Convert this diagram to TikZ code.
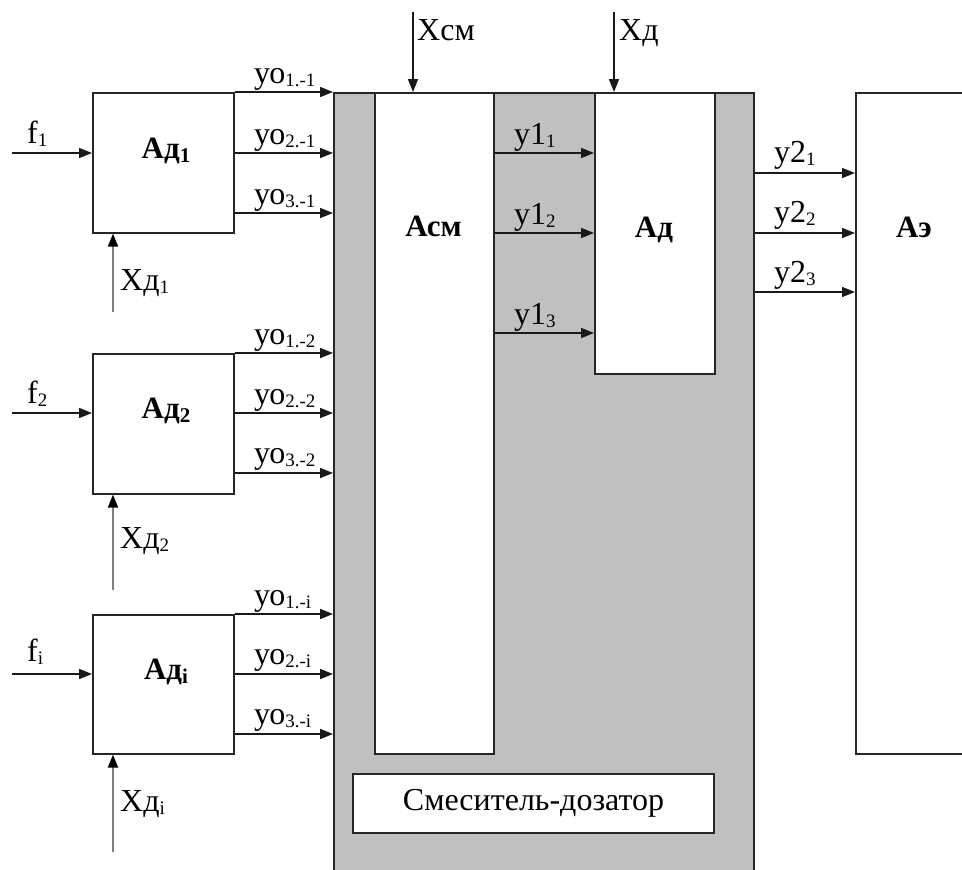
\documentclass[tikz,border=0pt]{standalone}
\usepackage{fontspec}
\setmainfont{Liberation Serif}
\usetikzlibrary{arrows.meta}
\definecolor{mixgray}{HTML}{C0C0C0}
\definecolor{linegray}{HTML}{808080}
\newcommand\lsub[1]{\raisebox{-3pt}{\fontsize{19}{21}\selectfont #1}}
\newcommand\bsub[1]{\raisebox{-4pt}{\fontsize{21}{23}\selectfont\bfseries #1}}
\begin{document}
\begin{tikzpicture}[x=1pt,y=-1pt,
  box/.style={draw=black!85, line width=1.6pt, fill=white, inner sep=0pt, anchor=north west},
  arr/.style={draw=black!90, line width=1.7pt, -{Triangle[length=13pt,width=10pt]}},
  garr/.style={draw=linegray, line width=1.9pt, -{Triangle[length=13pt,width=10pt,color=black]}},
  txt/.style={font=\fontsize{32}{38}\selectfont, inner sep=0pt, anchor=base west},
  btxt/.style={font=\fontsize{31}{37}\selectfont\bfseries, inner sep=0pt, anchor=base}]
\useasboundingbox (0,0) rectangle (962,870);
\clip (0,0) rectangle (962,870);

% main blocks
\node[box, fill=mixgray, minimum width=420pt, minimum height=800pt] (mixer) at (333,92) {};
\node[box, minimum width=119pt, minimum height=661pt] (asm) at (374,92) {};
\node[box, minimum width=120pt, minimum height=281pt] (adm) at (594,92) {};
\node[box, minimum width=160pt, minimum height=661pt] (ae) at (855,92) {};
\node[box, minimum width=361pt, minimum height=59pt, anchor=center,
      font=\fontsize{32}{38}\selectfont] (smes) at (533.5,803.5) {Смеситель-дозатор};

\node[box, minimum width=141pt, minimum height=140pt] (ad1) at (92,92) {};
\node[box, minimum width=141pt, minimum height=140pt] (ad2) at (92,353) {};
\node[box, minimum width=141pt, minimum height=139pt] (adi) at (92,614) {};

% block labels
\node[btxt] (lad1) at (166,158) {Ад\bsub{1}};
\node[btxt] (lad2) at (166,418) {Ад\bsub{2}};
\node[btxt] (ladi) at (166,679) {Ад\bsub{i}};
\node[btxt] (lasm) at (433.5,236) {Асм};
\node[btxt] (ladm) at (654,237) {Ад};
\node[btxt] (lae) at (914,237) {Аэ};

% inputs f
\coordinate (f1s) at (12,153);
\coordinate (f2s) at (12,413);
\coordinate (fis) at (12,674);
\draw[arr] (f1s) -- (f1s -| ad1.west);
\draw[arr] (f2s) -- (f2s -| ad2.west);
\draw[arr] (fis) -- (fis -| adi.west);
\node[txt] (tf1) at (27,143) {f\lsub{1}};
\node[txt] (tf2) at (27,403) {f\lsub{2}};
\node[txt] (tfi) at (27,661) {f\lsub{i}};

% control inputs Xd
\coordinate (x1s) at (113,312);
\coordinate (x2s) at (113,590);
\coordinate (xis) at (113,852);
\draw[garr] (x1s) -- (x1s |- ad1.south);
\draw[garr] (x2s) -- (x2s |- ad2.south);
\draw[garr] (xis) -- (xis |- adi.south);
\node[txt] (tx1) at (120,290) {Хд\lsub{1}};
\node[txt] (tx2) at (120,548) {Хд\lsub{2}};
\node[txt] (txi) at (120,811) {Хд\lsub{i}};

% outputs of dosers
\coordinate (o11) at (ad1.north east);
\coordinate (o21) at ([yshift=-61pt]ad1.north east);
\coordinate (o31) at ([yshift=-121pt]ad1.north east);
\coordinate (o12) at (ad2.north east);
\coordinate (o22) at ([yshift=-60pt]ad2.north east);
\coordinate (o32) at ([yshift=-120pt]ad2.north east);
\coordinate (o1i) at (adi.north east);
\coordinate (o2i) at ([yshift=-60pt]adi.north east);
\coordinate (o3i) at ([yshift=-120pt]adi.north east);
\foreach \c in {o11,o21,o31,o12,o22,o32,o1i,o2i,o3i}
  \draw[arr] (\c) -- (\c -| mixer.west);
\node[txt] (ty11) at (254,83) {уо\lsub{1.-1}};
\node[txt] (ty21) at (254,144) {уо\lsub{2.-1}};
\node[txt] (ty31) at (254,204) {уо\lsub{3.-1}};
\node[txt] (ty12) at (254,344) {уо\lsub{1.-2}};
\node[txt] (ty22) at (254,404) {уо\lsub{2.-2}};
\node[txt] (ty32) at (254,463) {уо\lsub{3.-2}};
\node[txt] (ty1i) at (254,605) {уо\lsub{1.-i}};
\node[txt] (ty2i) at (254,664) {уо\lsub{2.-i}};
\node[txt] (ty3i) at (254,724) {уо\lsub{3.-i}};

% top inputs
\coordinate (xcms) at (413,12);
\coordinate (xds) at (614,12);
\draw[arr] (xcms) -- (xcms |- mixer.north);
\draw[arr] (xds) -- (xds |- mixer.north);
\node[txt] (txcm) at (417,40) {Хсм};
\node[txt] (txd) at (619,40) {Хд};

% y1 arrows
\coordinate (y11) at (asm.east |- 0,153);
\coordinate (y12) at (asm.east |- 0,233);
\coordinate (y13) at (asm.east |- 0,333);
\foreach \c in {y11,y12,y13}
  \draw[arr] (\c) -- (\c -| adm.west);
\node[txt] (ty1a) at (514,144) {у1\lsub{1}};
\node[txt] (ty1b) at (514,224) {у1\lsub{2}};
\node[txt] (ty1c) at (514,324) {у1\lsub{3}};

% y2 arrows
\coordinate (y21) at (mixer.east |- 0,173);
\coordinate (y22) at (mixer.east |- 0,233);
\coordinate (y23) at (mixer.east |- 0,292);
\foreach \c in {y21,y22,y23}
  \draw[arr] (\c) -- (\c -| ae.west);
\node[txt] (ty2a) at (774,162) {у2\lsub{1}};
\node[txt] (ty2b) at (774,222) {у2\lsub{2}};
\node[txt] (ty2c) at (774,282) {у2\lsub{3}};
\end{tikzpicture}
\end{document}
